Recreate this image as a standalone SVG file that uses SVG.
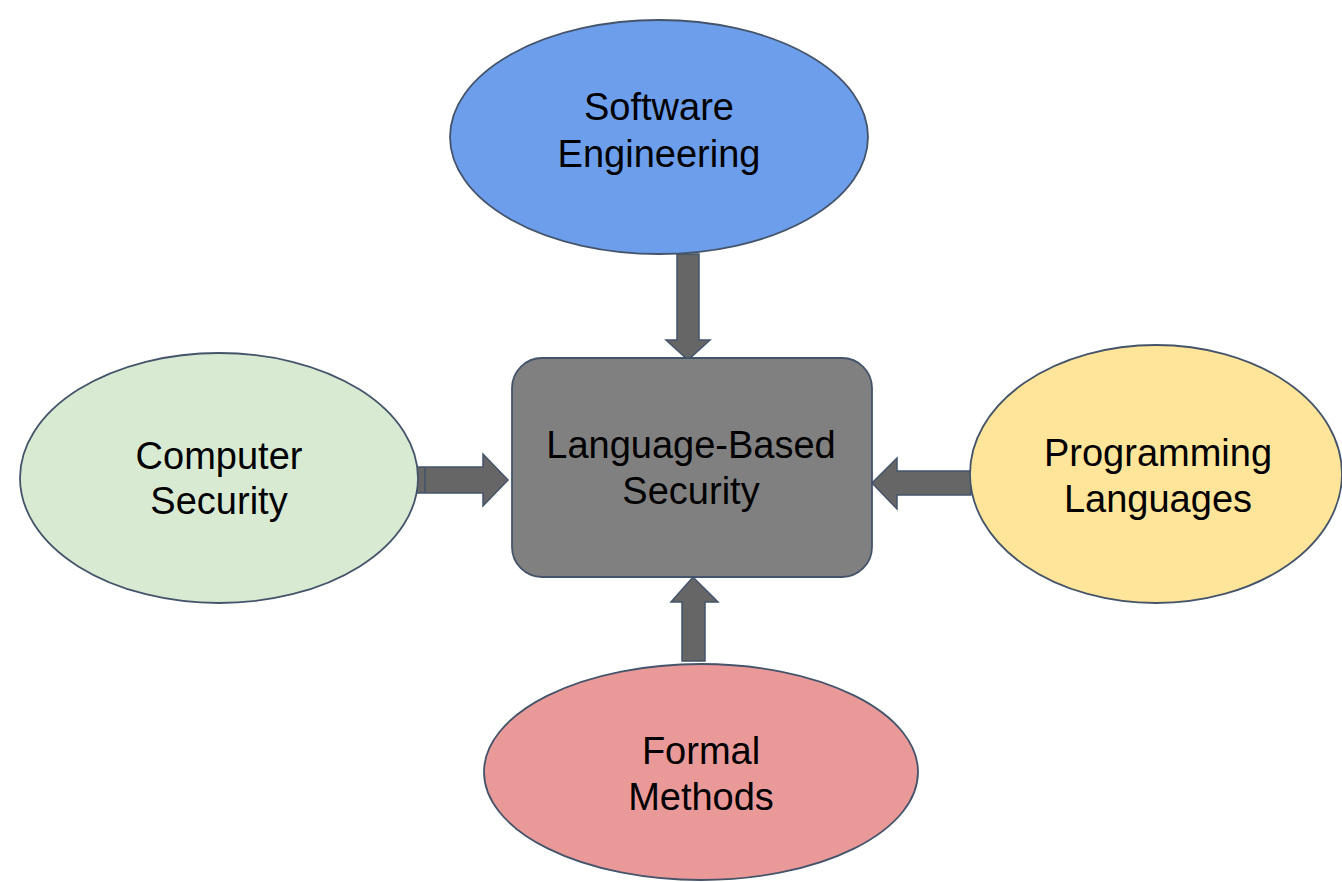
<svg xmlns="http://www.w3.org/2000/svg" width="1342" height="882" viewBox="0 0 1342 882">
  <style>
    .node { stroke: #44546A; stroke-width: 1.8; }
    .arrow { fill: #666666; stroke: #44546A; stroke-width: 1.5; stroke-linejoin: miter; }
    .label { font-family: "Liberation Sans", Arial, sans-serif; font-size: 38px; fill: #000000; text-anchor: middle; }
  </style>
  <rect x="0" y="0" width="1342" height="882" fill="#ffffff"/>

  <g id="connectors">
    <!-- Software Engineering -> centre (down) -->
    <path class="arrow" d="M677,254 L699,254 L699,340 L710,340 L688,360 L666,340 L677,340 Z"/>
    <!-- Computer Security -> centre (right) -->
    <path class="arrow" d="M417,467 L483,467 L483,454 L508,480 L483,506 L483,493 L417,493 Z"/>
    <line x1="425" y1="467" x2="425" y2="493" stroke="#44546A" stroke-width="1.5"/>
    <!-- Programming Languages -> centre (left) -->
    <path class="arrow" d="M971,471 L897,471 L897,458 L872,483 L897,509 L897,495 L971,495 Z"/>
    <!-- Formal Methods -> centre (up) -->
    <path class="arrow" d="M682,661 L682,602 L671,602 L693,577 L718,602 L705,602 L705,661 Z"/>
  </g>

  <g id="software-engineering">
    <ellipse class="node" cx="659" cy="137" rx="209" ry="117" fill="#6D9EEB"/>
    <text class="label" x="659" y="120">Software</text>
    <text class="label" x="659" y="167">Engineering</text>
  </g>

  <g id="computer-security">
    <ellipse class="node" cx="219" cy="478" rx="199" ry="125" fill="#D9EAD3"/>
    <text class="label" x="219" y="469">Computer</text>
    <text class="label" x="219" y="514">Security</text>
  </g>

  <g id="programming-languages">
    <ellipse class="node" cx="1156" cy="474" rx="186" ry="129" fill="#FFE599"/>
    <text class="label" x="1158" y="466">Programming</text>
    <text class="label" x="1158" y="512">Languages</text>
  </g>

  <g id="formal-methods">
    <ellipse class="node" cx="701" cy="772" rx="217" ry="108" fill="#EA9999"/>
    <text class="label" x="701" y="764">Formal</text>
    <text class="label" x="701" y="810">Methods</text>
  </g>

  <g id="language-based-security">
    <rect class="node" x="512" y="358" width="360" height="219" rx="30" ry="30" fill="#808080"/>
    <text class="label" x="691" y="458">Language-Based</text>
    <text class="label" x="691" y="504">Security</text>
  </g>
</svg>
